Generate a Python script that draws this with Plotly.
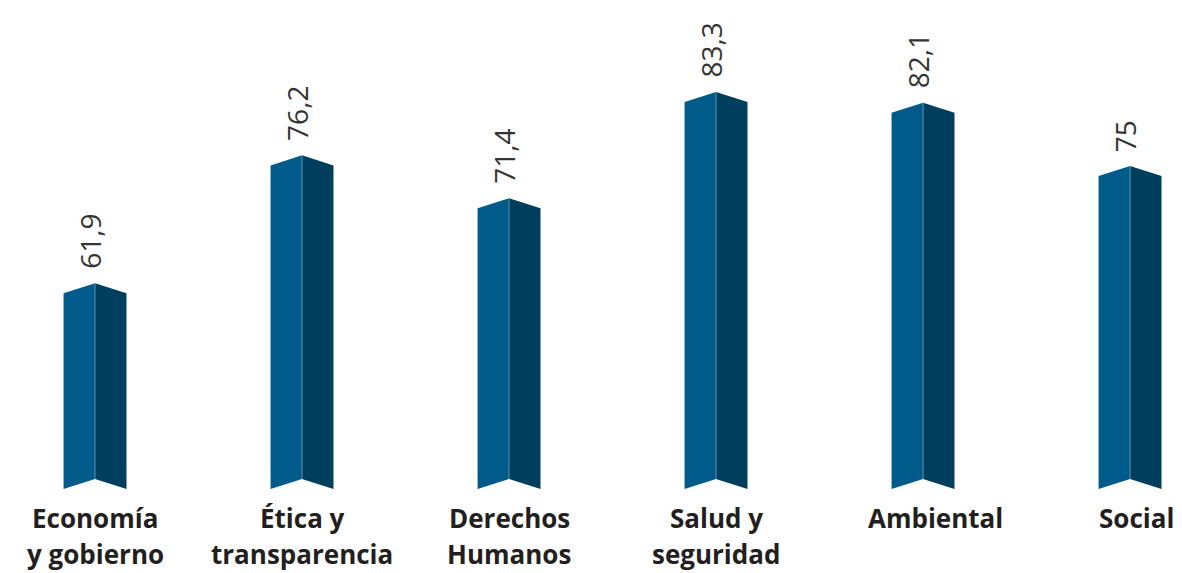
import plotly.graph_objects as go

categories = ["Economía<br>y gobierno", "Ética y<br>transparencia", "Derechos<br>Humanos",
              "Salud y<br>seguridad", "Ambiental", "Social"]
values = [61.9, 76.2, 71.4, 83.3, 82.1, 75]
value_labels = ["61,9", "76,2", "71,4", "83,3", "82,1", "75"]

BASE = 40.0
HALF = 0.152
DEPTH = 1.12
LEFT_COLOR = "#005b8b"
RIGHT_COLOR = "#003e5e"
LABEL_XSHIFT = [0, 0, 0, 0, 12, 6]

fig = go.Figure()
for i, v in enumerate(values):
    # left face
    fig.add_trace(go.Scatter(
        x=[i - HALF, i, i, i - HALF, i - HALF],
        y=[BASE - DEPTH, BASE, v, v - DEPTH, BASE - DEPTH],
        fill="toself", fillcolor=LEFT_COLOR, mode="lines",
        line=dict(width=0, color=LEFT_COLOR), hoverinfo="skip", showlegend=False))
    # right face
    fig.add_trace(go.Scatter(
        x=[i, i + HALF, i + HALF, i, i],
        y=[BASE, BASE - DEPTH, v - DEPTH, v, BASE],
        fill="toself", fillcolor=RIGHT_COLOR, mode="lines",
        line=dict(width=0, color=RIGHT_COLOR), hoverinfo="skip", showlegend=False))
    # thin edge highlight
    fig.add_trace(go.Scatter(
        x=[i, i], y=[BASE, v], mode="lines",
        line=dict(width=1, color="rgba(150,190,215,0.6)"),
        hoverinfo="skip", showlegend=False))
    fig.add_annotation(x=i, y=v, xref="x", yref="y", text=value_labels[i],
                       textangle=-90, showarrow=False, xanchor="center", yanchor="bottom",
                       yshift=12, xshift=-5,
                       font=dict(family="Open Sans", size=28, color="#333333"))
    lines = categories[i].split("<br>")
    for j, ln in enumerate(lines):
        fig.add_annotation(x=i, y=0, xref="x", yref="paper", text="<b>" + ln + "</b>",
                           showarrow=False, xanchor="center", yanchor="middle",
                           yshift=-18 - 36 * j, xshift=LABEL_XSHIFT[i],
                           font=dict(family="Open Sans", size=26, color="#231f20"))

fig.update_layout(
    width=1182, height=573,
    margin=dict(l=0, r=0, t=0, b=73),
    paper_bgcolor="white", plot_bgcolor="white",
    xaxis=dict(range=[-0.459, 5.251], visible=False, fixedrange=True),
    yaxis=dict(range=[37.65, 93.58], visible=False, fixedrange=True),
    showlegend=False,
)

fig.write_html("out.html")
